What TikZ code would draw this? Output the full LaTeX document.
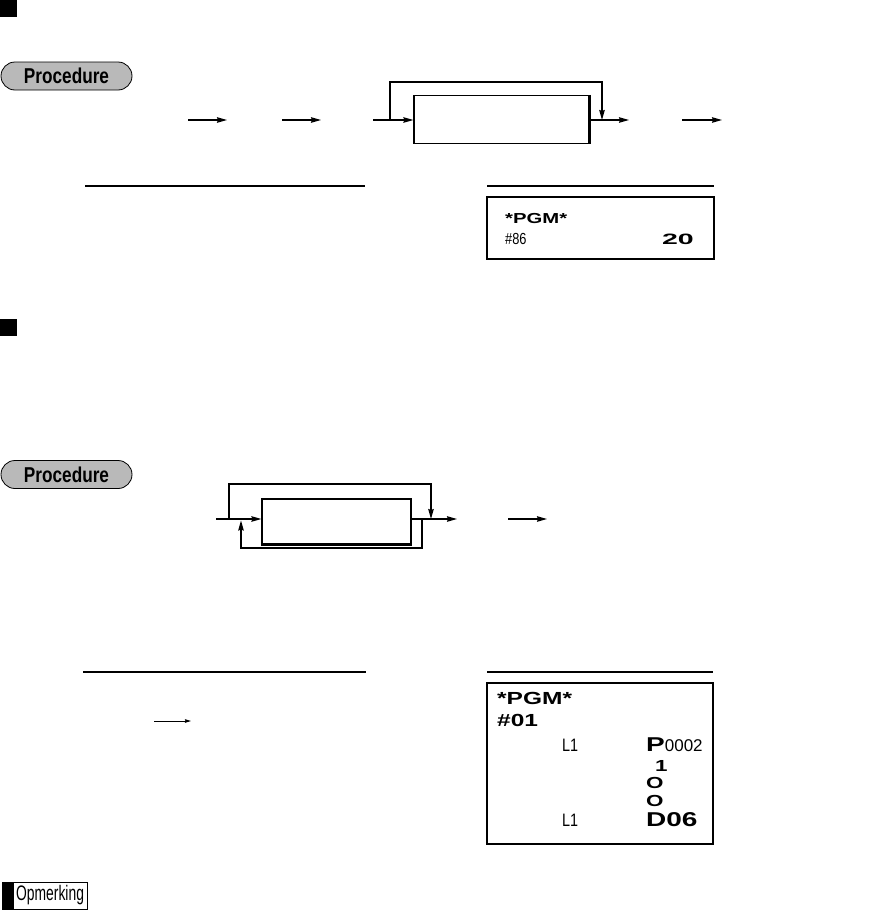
\documentclass[tikz,border=0pt]{standalone}
\usepackage{fontspec}
\setmainfont{Liberation Sans}
\newfontfamily\narrowfont[FakeStretch=0.8]{Liberation Sans}
\newfontfamily\notefont[FakeStretch=0.66]{Liberation Sans}
\newfontfamily\lcdfont[FakeStretch=1.4]{Liberation Sans}
\newfontfamily\widefont[FakeStretch=1.9]{Liberation Sans}
\usetikzlibrary{arrows.meta, positioning, calc}

\begin{document}
\begin{tikzpicture}[
  x=1pt, y=-1pt,
  flowbox/.style={draw, line width=1.2pt, inner sep=0pt},
  dispbox/.style={draw, line width=1.2pt, inner sep=0pt},
  procpill/.style={draw, line width=0.8pt, fill=gray!55, rounded corners=14pt, minimum width=131pt, minimum height=28pt, inner sep=0pt, font=\narrowfont\bfseries\fontsize{21.5}{21.5}\selectfont},
  flow/.style={-{Stealth[length=10pt,width=5.5pt,inset=1pt]}, line width=1.2pt},
  thinflow/.style={-{Stealth[length=6pt,width=3.5pt,inset=0.5pt]}, line width=1pt},
  rule/.style={line width=1.3pt},
  lcd/.style={anchor=west, inner sep=0pt, font=\lcdfont\bfseries\fontsize{#1}{#1}\selectfont},
  lcdsmall/.style={anchor=west, inner sep=0pt, font=\narrowfont\fontsize{#1}{#1}\selectfont},
  marker/.style={fill=black, minimum size=17pt, inner sep=0pt}
]
\useasboundingbox (0,0) rectangle (878,913);

% Section markers and procedure badges
\node[marker] (mark1) at (8.5,8.5) {};
\node[marker] (mark2) at (8.5,327) {};
\node[procpill] (proc1) at (66.5,76) {Procedure};
\node[procpill] (proc2) at (66.5,474.5) {Procedure};

% First procedure (flow on y=120)
\node[flowbox, minimum width=175pt, minimum height=48pt] (entry) at (501.5,119.5) {};
\draw[line width=2.6pt] (entry.north east) -- (entry.south east);
\coordinate (s1) at (188,120); \coordinate (e1) at (227,120);
\coordinate (s2) at (282,120); \coordinate (e2) at (321,120);
\coordinate (s3) at (373,120);
\coordinate (skipa) at (390,120); \coordinate (skipb) at (602,120);
\coordinate (e4) at (629,120);
\coordinate (s5) at (682,120); \coordinate (e5) at (722,120);
\draw[flow] (s1) -- (e1);
\draw[flow] (s2) -- (e2);
\draw[flow] (s3) -- (s3 -| entry.west);
\draw[flow] (skipa) -- ++(0,-38) -| (skipb);
\draw[flow] (entry.east |- s3) -- (e4);
\draw[flow] (s5) -- (e5);

% Printout / display headings
\draw[rule] (85,186) coordinate (r1a) -- (365,186) coordinate (r1b);
\draw[rule] (487,186) coordinate (r2a) -- (714,186) coordinate (r2b);

% Display 1
\node[dispbox, minimum width=227pt, minimum height=62pt] (disp1) at (600.5,228) {};
\node[lcd=14.5] (pgm1) at (505,219) {*PGM*};
\node[lcdsmall=16] (num1) at (505,239) {\#86};
\node[lcd=15, anchor=east, font=\widefont\bfseries\fontsize{15}{15}\selectfont] (val1) at (694,239) {20};

% Second procedure (flow on y=519)
\node[flowbox, minimum width=149pt, minimum height=45pt] (item) at (336.5,521.5) {};
\draw[line width=2.6pt] (item.south west) -- (item.south east);
\coordinate (t1) at (216,519);
\coordinate (upa) at (229,519); \coordinate (upb) at (431,519);
\coordinate (lowa) at (422,519); \coordinate (lowb) at (241,520.5);
\coordinate (t2) at (457,519);
\coordinate (t3) at (508,519); \coordinate (t4) at (547,519);
\draw[flow] (t1) -- (t1 -| item.west);
\draw[flow] (upa) -- ++(0,-35) -| (upb);
\draw[flow] (lowa) -- ++(0,29) -| (lowb);
\draw[flow] (item.east |- t1) -- (t2);
\draw[flow] (t3) -- (t4);

% Headings for the second part
\draw[rule] (83,672) coordinate (r3a) -- (366,672) coordinate (r3b);
\draw[rule] (487,672) coordinate (r4a) -- (713,672) coordinate (r4b);
\coordinate (k1) at (154,721); \coordinate (k2) at (191,721);
\draw[thinflow] (k1) -- (k2);

% Display 2
\node[dispbox, minimum width=226pt, minimum height=161pt] (disp2) at (600,763.5) {};
\node[lcd=17.5] (pgm2) at (497,698) {*PGM*};
\node[lcd=17.5] (num2) at (497,720) {\#01};
\node[lcdsmall=18] (lineA) at (562,745) {L1};
\node[lcd=20] (plu) at (646,745) {P\rmfamily\mdseries\fontsize{17}{17}\selectfont 0002};
\node[lcd=16] (qty) at (655,766) {1};
\node[lcd=16] (z1) at (646,783) {O};
\node[lcd=16] (z2) at (646,801) {O};
\node[lcdsmall=18] (lineB) at (562,820) {L1};
\node[lcd=20] (dept) at (646,820) {D06};

% Note badge
\node[draw, line width=0.8pt, minimum width=85pt, minimum height=27pt, inner sep=0pt] (note) at (44.5,895.5) {};
\fill (note.north west) rectangle ($(note.south west)+(12,0)$);
\node[anchor=west, inner sep=0pt, font=\notefont\fontsize{21}{21}\selectfont] (notetxt) at (16,895) {Opmerking};
\end{tikzpicture}
\end{document}
